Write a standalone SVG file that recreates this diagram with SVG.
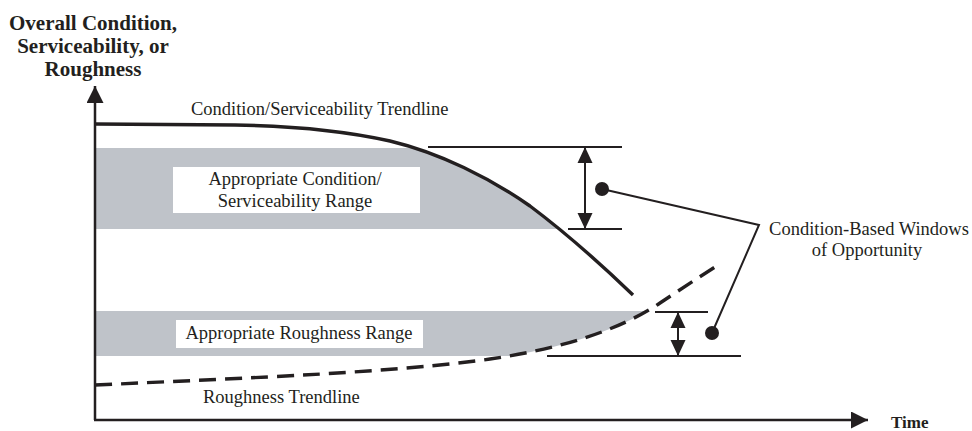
<svg xmlns="http://www.w3.org/2000/svg" width="972" height="431" viewBox="0 0 972 431">
  <style>
    text { font-family: "Liberation Serif", "Times New Roman", serif; fill: #231f20; }
    .t { font-size: 18.5px; }
    .title { font-size: 21px; font-weight: bold; }
    .axis { stroke: #231f20; stroke-width: 2.5; fill: none; }
    .thin { stroke: #231f20; stroke-width: 2; fill: none; }
    .curve { stroke: #231f20; stroke-width: 3.4; fill: none; }
    .dash { stroke: #231f20; stroke-width: 3.4; fill: none; stroke-dasharray: 17 9; }
    .band { fill: #bfc3c9; }
    .box { fill: #ffffff; }
    .dot { fill: #231f20; }
  </style>
  <defs>
    <marker id="ah" markerUnits="userSpaceOnUse" markerWidth="17" markerHeight="17" viewBox="0 0 16 16" refX="16" refY="8" orient="auto-start-reverse">
      <path d="M0,0 L16,8 L0,16 Z" fill="#231f20"/>
    </marker>
    <marker id="ahs" markerUnits="userSpaceOnUse" markerWidth="16" markerHeight="16" viewBox="0 0 16 16" refX="16" refY="8" orient="auto-start-reverse">
      <path d="M0,0.5 L16,8 L0,15.5 Z" fill="#231f20"/>
    </marker>
    <clipPath id="clipTop">
      <path d="M95,124 L235,125 C300,126 350,132 390,141 C440,153 490,178 530,206 C570,236 605,268 633,295 L95,300 Z"/>
    </clipPath>
    <clipPath id="clipBot">
      <path d="M95,385 C250,378 400,372 490,359 C560,349 620,330 660,303 C690,283 710,270 720,264 L720,250 L95,250 Z"/>
    </clipPath>
  </defs>

  <g id="bands">
    <rect class="band" x="95" y="148" width="560" height="81" clip-path="url(#clipTop)"/>
    <rect class="band" x="95" y="311" width="600" height="45" clip-path="url(#clipBot)"/>
  </g>

  <g id="node-condition-range">
    <rect class="box" x="173" y="167" width="247" height="46"/>
    <text class="t" x="295" y="185" text-anchor="middle">Appropriate Condition/</text>
    <text class="t" x="295" y="207" text-anchor="middle">Serviceability Range</text>
  </g>

  <g id="node-roughness-range">
    <rect class="box" x="176" y="320" width="247" height="28"/>
    <text class="t" x="299" y="339" text-anchor="middle">Appropriate Roughness Range</text>
  </g>

  <g id="node-y-axis-title">
    <text class="title" x="93" y="30" text-anchor="middle">Overall Condition,</text>
    <text class="title" x="93" y="53" text-anchor="middle">Serviceability, or</text>
    <text class="title" x="93" y="76" text-anchor="middle">Roughness</text>
  </g>

  <g id="node-time">
    <text class="title" x="891" y="428" style="font-size:17px">Time</text>
  </g>

  <g id="node-condition-trendline">
    <text class="t" x="191" y="115">Condition/Serviceability Trendline</text>
  </g>

  <g id="node-roughness-trendline">
    <text class="t" x="203" y="403">Roughness Trendline</text>
  </g>

  <g id="node-windows">
    <text class="t" x="869" y="235" text-anchor="middle">Condition-Based Windows</text>
    <text class="t" x="867" y="256" text-anchor="middle">of Opportunity</text>
  </g>

  <g id="connectors">
    <!-- axes -->
    <path class="axis" d="M95,420 L95,86" marker-end="url(#ah)"/>
    <path class="axis" d="M94,420 L868,420" marker-end="url(#ah)"/>
    <!-- trendlines -->
    <path class="curve" d="M95,124 L235,125 C300,126 350,132 390,141 C440,153 490,178 530,206 C570,236 605,268 633,295"/>
    <path class="dash" d="M95,385 C250,378 400,372 490,359 C560,349 620,330 660,303 C690,283 710,270 720,264"/>
    <!-- upper window -->
    <line class="thin" x1="428" y1="147" x2="622" y2="147"/>
    <line class="thin" x1="568" y1="229" x2="622" y2="229"/>
    <path class="thin" d="M585,147 L585,229" marker-start="url(#ahs)" marker-end="url(#ahs)"/>
    <!-- lower window -->
    <line class="thin" x1="655" y1="312" x2="708" y2="312"/>
    <line class="thin" x1="547" y1="356" x2="741" y2="356"/>
    <path class="thin" d="M678,312 L678,356" marker-start="url(#ahs)" marker-end="url(#ahs)"/>
    <!-- callout -->
    <polyline class="thin" points="602,189 759,225 712,333"/>
    <circle class="dot" cx="602" cy="189" r="7"/>
    <circle class="dot" cx="712" cy="333" r="7"/>
  </g>
</svg>
